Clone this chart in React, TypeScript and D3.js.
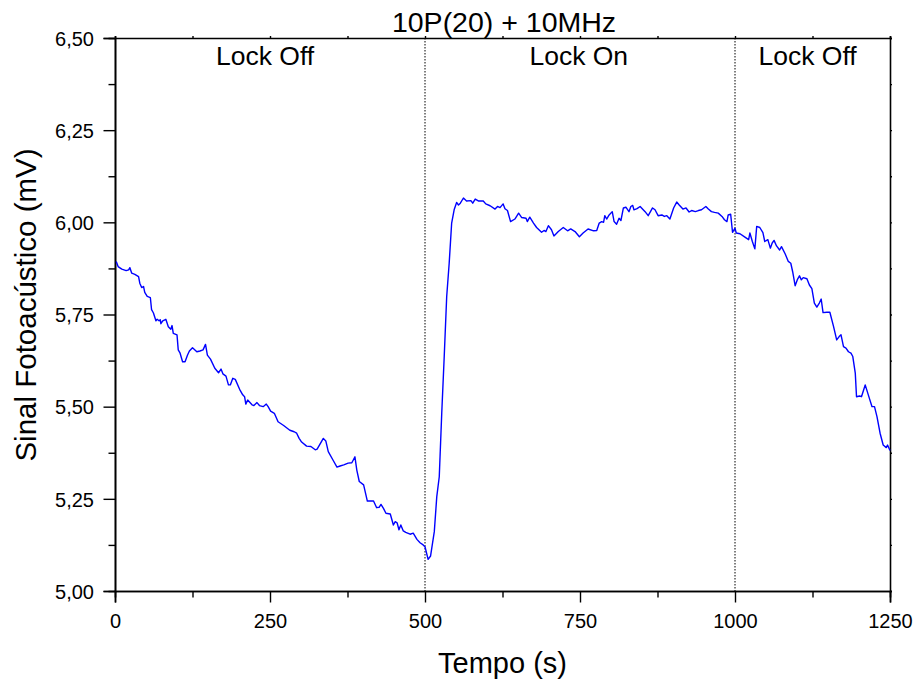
import React, { useEffect, useRef } from "react";
import * as d3 from "d3";

const tempo: number[] = [
  2, 5, 11, 18, 22, 24, 27, 32, 38, 40, 43, 46, 48, 52, 57, 59, 62, 66, 68, 71, 73, 74, 77, 82, 86, 90, 92, 94, 100, 102, 105, 109, 113, 117, 120, 125, 132, 137, 142, 146, 149, 154, 161, 167, 171, 174, 179, 183, 186, 190, 194, 201, 206, 209, 211, 214, 221, 224, 229, 233, 239, 244, 247, 251, 257, 263, 272, 282, 289, 293, 297,
  301, 309, 316, 323, 326, 336, 340, 344, 352, 358, 363, 369, 376, 382, 387, 390, 394, 401, 407, 417, 422, 426, 429, 433, 437, 444, 449, 452, 455, 458, 461, 465, 469, 476, 481, 487, 492, 497, 500, 505, 509, 515, 519, 523, 527, 531, 535, 539, 543, 547, 551, 554, 557, 562, 567, 574, 577, 581, 586, 594, 598, 605, 613, 617, 621, 626, 629, 633, 638, 645, 651, 656, 663, 665, 669, 675, 680, 688, 692, 695, 699, 704, 708, 715, 723, 730, 735, 742, 749,
  755, 763, 772, 777, 781, 785, 788, 790, 793, 797, 802, 805, 809, 813, 816, 820, 824, 829, 832, 835, 837, 842, 847, 855, 860, 867, 871, 876, 882, 886, 890, 895, 901, 906, 910, 916, 921, 926, 930, 936, 941, 946, 953, 957, 962, 967, 973, 979, 983, 987, 989, 993, 996, 1000, 1002, 1008, 1016, 1022, 1024, 1028, 1032, 1035, 1040,
  1045, 1048, 1053, 1057, 1060, 1063, 1067, 1072, 1075, 1081, 1086, 1090, 1093, 1097, 1101, 1104, 1107, 1110, 1116, 1120, 1124, 1128, 1132, 1136, 1139, 1142, 1148, 1153, 1159, 1164, 1168, 1171, 1175, 1179, 1183, 1187, 1190, 1194, 1196, 1201, 1204, 1210, 1215, 1221, 1225, 1229, 1234, 1239, 1244, 1246, 1250,
];

const sinal: number[] = [
  5.894, 5.880, 5.873, 5.869, 5.871, 5.877, 5.862, 5.859, 5.853, 5.835, 5.823, 5.826, 5.810, 5.799, 5.796, 5.763, 5.754, 5.733, 5.737, 5.733, 5.736, 5.725, 5.733, 5.737, 5.717, 5.710, 5.720, 5.699, 5.695, 5.654, 5.645, 5.622, 5.622, 5.640, 5.651, 5.660, 5.649, 5.651, 5.654, 5.669, 5.640, 5.629, 5.604, 5.592, 5.602, 5.589, 5.583, 5.559, 5.559, 5.577, 5.574, 5.547, 5.532, 5.527, 5.507, 5.518, 5.505, 5.503, 5.511, 5.503, 5.500, 5.507, 5.500, 5.488, 5.482, 5.459, 5.449, 5.436, 5.432, 5.428, 5.414,
  5.404, 5.393, 5.392, 5.383, 5.385, 5.414, 5.407, 5.378, 5.354, 5.336, 5.339, 5.342, 5.347, 5.348, 5.364, 5.328, 5.297, 5.288, 5.244, 5.244, 5.226, 5.227, 5.235, 5.224, 5.211, 5.209, 5.179, 5.188, 5.185, 5.166, 5.179, 5.163, 5.159, 5.154, 5.157, 5.140, 5.131, 5.125, 5.120, 5.086, 5.095, 5.161, 5.256, 5.310, 5.482, 5.636, 5.799, 5.889, 5.998, 6.034, 6.054, 6.047, 6.052, 6.066, 6.058, 6.059, 6.052, 6.063, 6.058, 6.058, 6.050, 6.045, 6.036, 6.043, 6.040, 6.050, 6.037, 6.032, 6.002, 6.009, 6.025, 6.013, 6.011, 6.002, 6.014, 5.998, 5.986, 5.973, 5.978, 5.975, 5.991, 5.980, 5.963, 5.975, 5.986, 5.977, 5.982, 5.975, 5.961,
  5.971, 5.982, 5.977, 5.978, 5.998, 6.002, 6.000, 6.018, 6.009, 6.020, 6.029, 6.002, 5.995, 6.011, 6.005, 6.039, 6.041, 6.029, 6.043, 6.046, 6.034, 6.037, 6.043, 6.029, 6.018, 6.039, 6.034, 6.018, 6.020, 6.016, 6.018, 6.009, 6.039, 6.055, 6.047, 6.036, 6.039, 6.028, 6.032, 6.029, 6.032, 6.034, 6.043, 6.036, 6.029, 6.027, 6.025, 6.016, 6.007, 6.002, 6.020, 6.022, 5.973, 5.984, 5.971, 5.969, 5.960, 5.953, 5.971, 5.948, 5.928, 5.989, 5.986,
  5.972, 5.948, 5.953, 5.930, 5.944, 5.951, 5.936, 5.925, 5.934, 5.914, 5.894, 5.889, 5.866, 5.828, 5.846, 5.855, 5.844, 5.850, 5.847, 5.830, 5.820, 5.781, 5.770, 5.781, 5.792, 5.755, 5.756, 5.756, 5.717, 5.681, 5.690, 5.695, 5.663, 5.659, 5.649, 5.645, 5.636, 5.591, 5.527, 5.529, 5.527, 5.559, 5.532, 5.500, 5.500, 5.473, 5.428, 5.396, 5.389, 5.396, 5.381,
];

const xTicks: number[] = [0, 250, 500, 750, 1000, 1250];
const yTicks: number[] = [5.0, 5.25, 5.5, 5.75, 6.0, 6.25, 6.5];
const xMinor: number[] = [125, 375, 625, 875, 1125];
const yMinor: number[] = [5.125, 5.375, 5.625, 5.875, 6.125, 6.375];
const markers: number[] = [500, 1000];
const regionLabels: string[] = ["Lock Off", "Lock On", "Lock Off"];
const regionCenters: number[] = [242, 748, 1117];
const title = "10P(20) + 10MHz";
const xLabel = "Tempo (s)";
const yLabel = "Sinal Fotoacústico (mV)";

const W = 917;
const H = 685;
const L = 115;
const R = 890;
const T = 38;
const B = 591;
const FONT = "Liberation Sans, Arial, Helvetica, sans-serif";

export default function App() {
  const ref = useRef<SVGSVGElement>(null);

  useEffect(() => {
    const svg = d3.select(ref.current);
    svg.selectAll("*").remove();

    const x = d3.scaleLinear().domain([0, 1250]).range([L, R]);
    const y = d3.scaleLinear().domain([5.0, 6.5]).range([B, T]);
    const fmt = (v: number) => v.toFixed(2).replace(".", ",");

    // bottom axis
    const gx = svg.append("g").attr("transform", `translate(0,${B})`);
    gx.call(d3.axisBottom(x).tickValues(xTicks).tickSize(11.5).tickFormat((d) => String(d)));
    gx.append("g").call(d3.axisBottom(x).tickValues(xMinor).tickSize(6.5).tickFormat(() => ""));
    // left axis
    const gy = svg.append("g").attr("transform", `translate(${L},0)`);
    gy.call(d3.axisLeft(y).tickValues(yTicks).tickSize(11.5).tickFormat((d) => fmt(d as number)));
    gy.append("g").call(d3.axisLeft(y).tickValues(yMinor).tickSize(6.5).tickFormat(() => ""));
    // top axis
    const gt = svg.append("g").attr("transform", `translate(0,${T})`);
    gt.call(d3.axisTop(x).tickValues([...xTicks, ...xMinor]).tickSize(2).tickFormat(() => ""));
    // right axis
    const gr = svg.append("g").attr("transform", `translate(${R},0)`);
    gr.call(d3.axisRight(y).tickValues([...yTicks, ...yMinor]).tickSize(2).tickFormat(() => ""));

    svg.selectAll(".domain").attr("stroke", "#000").attr("stroke-width", 1.6);
    svg.selectAll(".tick line").attr("stroke", "#000").attr("stroke-width", 1.4);
    svg.selectAll(".tick text").attr("font-family", FONT).attr("font-size", 20).attr("fill", "#000");
    gx.selectAll(".tick text").attr("dy", "0.71em").attr("y", 22.5);
    gy.selectAll(".tick text").attr("x", -21).attr("dy", "0.36em");

    // vertical markers
    svg.selectAll("line.marker")
      .data(markers)
      .enter()
      .append("line")
      .attr("class", "marker")
      .attr("x1", (d) => x(d))
      .attr("x2", (d) => x(d))
      .attr("y1", T)
      .attr("y2", B)
      .attr("stroke", "#000")
      .attr("stroke-width", 1)
      .attr("stroke-dasharray", "1.5,1.5");

    // data line
    const pts = tempo.map((t, i) => [t, sinal[i]] as [number, number]);
    const line = d3.line<[number, number]>().x((d) => x(d[0])).y((d) => y(d[1]));
    svg.append("path")
      .datum(pts)
      .attr("d", line)
      .attr("fill", "none")
      .attr("stroke", "#0000ff")
      .attr("stroke-width", 1.4)
      .attr("stroke-linejoin", "round");

    // region labels
    svg.selectAll("text.region")
      .data(regionLabels)
      .enter()
      .append("text")
      .attr("class", "region")
      .attr("x", (_, i) => x(regionCenters[i]))
      .attr("y", 64.5)
      .attr("text-anchor", "middle")
      .attr("font-family", FONT)
      .attr("font-size", 26.5)
      .text((d) => d);

    svg.append("text")
      .attr("x", 504)
      .attr("y", 31.5)
      .attr("text-anchor", "middle")
      .attr("font-family", FONT)
      .attr("font-size", 28.5)
      .text(title);

    svg.append("text")
      .attr("x", (L + R) / 2)
      .attr("y", 673)
      .attr("text-anchor", "middle")
      .attr("font-family", FONT)
      .attr("font-size", 29)
      .text(xLabel);

    svg.append("text")
      .attr("transform", `translate(36,305) rotate(-90)`)
      .attr("text-anchor", "middle")
      .attr("font-family", FONT)
      .attr("font-size", 29.5)
      .text(yLabel);
  }, []);

  return (
    <svg
      ref={ref}
      width={W}
      height={H}
      style={{ position: "absolute", left: 0, top: 0, background: "#fff" }}
    />
  );
}
